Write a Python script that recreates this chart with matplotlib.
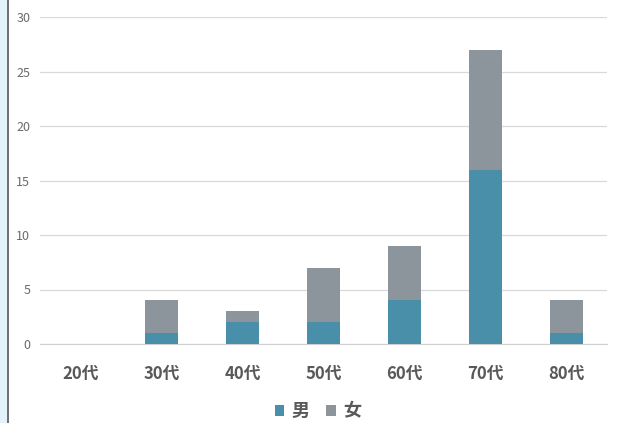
import matplotlib.pyplot as plt
from matplotlib.patches import Rectangle
from matplotlib.lines import Line2D

plt.rcParams['font.family'] = ['Noto Sans CJK JP', 'DejaVu Sans']

categories = ["20代", "30代", "40代", "50代", "60代", "70代", "80代"]
male = [0, 1, 2, 2, 4, 16, 1]
female = [0, 3, 1, 5, 5, 11, 3]
yticks = [0, 5, 10, 15, 20, 25, 30]

c_male = "#4a8faa"
c_female = "#8b959b"
grey_text = "#595959"

fig = plt.figure(figsize=(6.18, 4.23), dpi=100)

# left border strip
fig.patches.append(Rectangle((0, 0), 7 / 618, 1, transform=fig.transFigure,
                             facecolor="#e3f1fb", edgecolor="none", zorder=0))
fig.lines.append(Line2D([7.5 / 618, 7.5 / 618], [0, 1], transform=fig.transFigure,
                        color="#555555", linewidth=1.2))

ax = fig.add_axes([40 / 618, 1 - 344 / 423, 567 / 618, 327 / 423])

x = range(len(categories))
ax.bar(x, male, width=0.4, color=c_male, label="男", zorder=3)
ax.bar(x, female, width=0.4, bottom=male, color=c_female, label="女", zorder=3)

ax.set_xlim(-0.5, len(categories) - 0.5)
ax.set_ylim(0, 30)
ax.set_yticks(yticks)
ax.yaxis.grid(True, color="#d9d9d9", linewidth=0.9, zorder=0)
ax.set_axisbelow(True)

for s in ["top", "right", "left"]:
    ax.spines[s].set_visible(False)
ax.spines["bottom"].set_color("#d0d0d0")

ax.set_xticks(list(x))
ax.set_xticklabels(categories, fontsize=12, fontweight="bold", color=grey_text)
ax.tick_params(axis="x", length=0, pad=15)
ax.tick_params(axis="y", length=0, labelsize=9, labelcolor="#6a6a6a", pad=7)

leg = ax.legend(loc="center", bbox_to_anchor=(0.49, -0.205), ncol=2, frameon=False,
                fontsize=13, handlelength=0.55, handleheight=0.55, handletextpad=0.4,
                columnspacing=0.9)
for t in leg.get_texts():
    t.set_color(grey_text)
    t.set_fontweight("bold")

fig.savefig("out.png", dpi=100)
